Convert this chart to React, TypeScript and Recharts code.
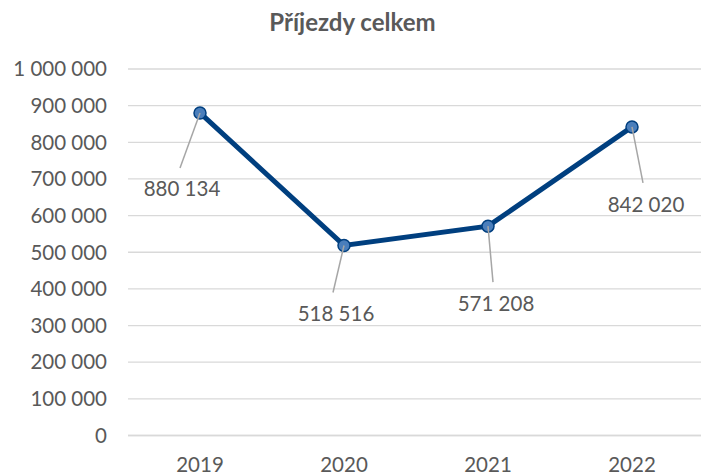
import React from 'react';
import { LineChart, Line, XAxis, YAxis, CartesianGrid, LabelList } from 'recharts';

const years = ['2019', '2020', '2021', '2022'];
const arrivals = [880134, 518516, 571208, 842020];
const yTicks = [0, 100000, 200000, 300000, 400000, 500000, 600000, 700000, 800000, 900000, 1000000];

// label placement relative to the marker: leader end (lx, ly), text centre (tx, ty)
const labelOffsets = [
  { lx: -20, ly: 55, tx: -18, ty: 75 },
  { lx: -11, ly: 47, tx: -8, ty: 68 },
  { lx: 5, ly: 56, tx: 8, ty: 77 },
  { lx: 11, ly: 56, tx: 14, ty: 77 },
];

const data = years.map((year, i) => ({ year, value: arrivals[i] }));

const FONT = 'Lato, "Noto Sans", sans-serif';
const TEXT = '#595959';

const fmt = (v: number) => String(v).replace(/\B(?=(\d{3})+(?!\d))/g, ' ');

const LeaderLabel = (props: any) => {
  const { x, y, value, index } = props;
  const o = labelOffsets[index];
  return (
    <g>
      <line x1={x} y1={y} x2={x + o.lx} y2={y + o.ly} stroke="#a6a6a6" strokeWidth={1.5} />
      <text
        x={x + o.tx}
        y={y + o.ty}
        textAnchor="middle"
        dominantBaseline="central"
        fill={TEXT}
        fontSize={20.5}
        fontFamily={FONT}
      >
        {fmt(value)}
      </text>
    </g>
  );
};

export default function App() {
  return (
    <div style={{ position: 'absolute', left: 0, top: 0, width: 701, height: 476, background: '#fff' }}>
      <div
        style={{
          position: 'absolute',
          left: 0,
          top: 7,
          width: 705,
          textAlign: 'center',
          fontFamily: FONT,
          fontWeight: 700,
          fontSize: 24,
          color: TEXT,
          lineHeight: '30px',
        }}
      >
        Příjezdy celkem
      </div>
      <LineChart width={701} height={476} data={data} margin={{ top: 69, right: 0, bottom: 0, left: 0 }}>
        <CartesianGrid vertical={false} stroke="#d9d9d9" strokeWidth={1.3} />
        <XAxis
          dataKey="year"
          axisLine={{ stroke: '#d9d9d9', strokeWidth: 1.3 }}
          tickLine={false}
          padding={{ left: 72, right: 69 }}
          height={40.5}
          tickSize={0}
          tickMargin={22}
          tick={{ fill: TEXT, fontSize: 20.5, fontFamily: FONT }}
        />
        <YAxis
          width={128}
          domain={[0, 1000000]}
          ticks={yTicks}
          interval={0}
          axisLine={false}
          tickLine={false}
          tickSize={0}
          tickMargin={21}
          tickFormatter={fmt}
          tick={{ fill: TEXT, fontSize: 20.5, fontFamily: FONT }}
        />
        <Line
          type="linear"
          dataKey="value"
          stroke="#003f7f"
          strokeWidth={5}
          dot={{ r: 6, fill: '#4a7ebb', stroke: '#003f7f', strokeWidth: 1.5 }}
          isAnimationActive={false}
        >
          <LabelList dataKey="value" content={LeaderLabel} />
        </Line>
      </LineChart>
    </div>
  );
}
